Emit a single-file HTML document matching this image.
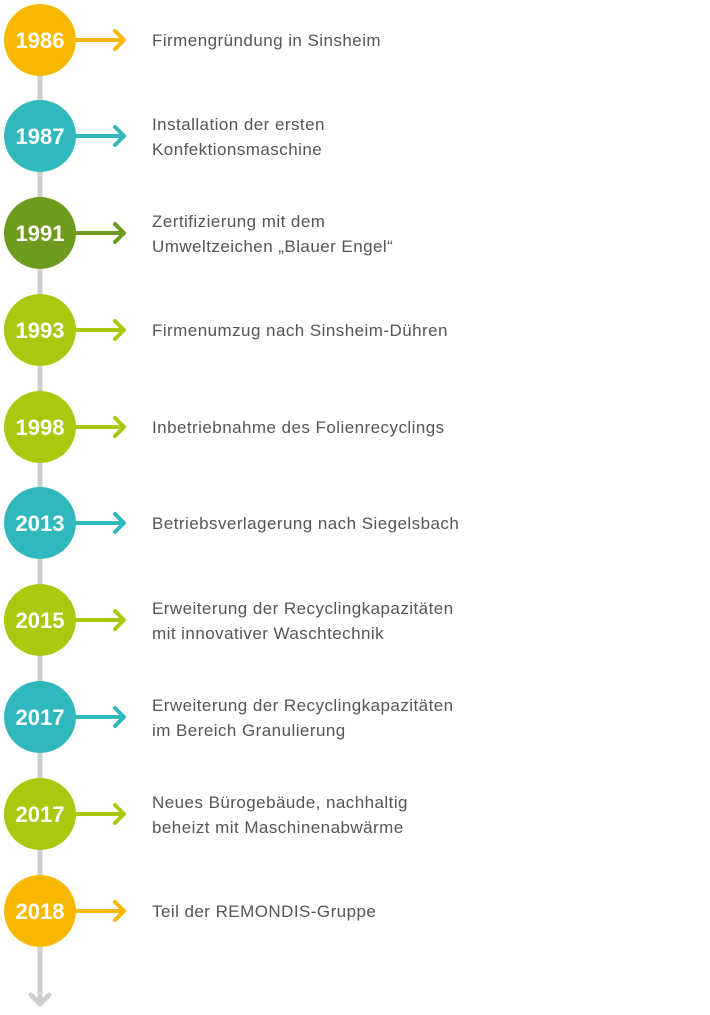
<!DOCTYPE html>
<html><head><meta charset="utf-8"><style>
body{margin:0;background:#fff;width:710px;height:1010px;overflow:hidden}
svg text{font-family:"Liberation Sans",sans-serif}
.y{fill:#fff;font-size:22px;font-weight:bold;text-anchor:middle}
.t{fill:#555;font-size:17px;letter-spacing:0.45px}
.a{fill:none;stroke-width:4;stroke-linecap:round;stroke-linejoin:round}
</style></head><body>
<svg width="710" height="1010" viewBox="0 0 710 1010">
<line x1="40" y1="40" x2="40" y2="1004" stroke="#cfcfcf" stroke-width="5"/>
<polyline points="31,995 40,1004 49,995" fill="none" stroke="#cfcfcf" stroke-width="5" stroke-linecap="round" stroke-linejoin="round"/>

<g stroke="#f8b800"><circle cx="40" cy="40" r="36" fill="#f8b800" stroke="none"/><line x1="74" y1="40" x2="123" y2="40" stroke-width="4"/><polyline class="a" points="115,31 124,40 115,49"/></g>
<text class="y" x="40" y="48">1986</text>
<text class="t" x="152" y="46">Firmengründung in Sinsheim</text>

<g stroke="#30b9bd"><circle cx="40" cy="136" r="36" fill="#30b9bd" stroke="none"/><line x1="74" y1="136" x2="123" y2="136" stroke-width="4"/><polyline class="a" points="115,127 124,136 115,145"/></g>
<text class="y" x="40" y="144">1987</text>
<text class="t" x="152" y="130">Installation der ersten</text>
<text class="t" x="152" y="155">Konfektionsmaschine</text>

<g stroke="#6e9b1d"><circle cx="40" cy="233" r="36" fill="#6e9b1d" stroke="none"/><line x1="74" y1="233" x2="123" y2="233" stroke-width="4"/><polyline class="a" points="115,224 124,233 115,242"/></g>
<text class="y" x="40" y="241">1991</text>
<text class="t" x="152" y="227">Zertifizierung mit dem</text>
<text class="t" x="152" y="252">Umweltzeichen „Blauer Engel“</text>

<g stroke="#a9c90e"><circle cx="40" cy="330" r="36" fill="#a9c90e" stroke="none"/><line x1="74" y1="330" x2="123" y2="330" stroke-width="4"/><polyline class="a" points="115,321 124,330 115,339"/></g>
<text class="y" x="40" y="338">1993</text>
<text class="t" x="152" y="336">Firmenumzug nach Sinsheim-Dühren</text>

<g stroke="#a9c90e"><circle cx="40" cy="427" r="36" fill="#a9c90e" stroke="none"/><line x1="74" y1="427" x2="123" y2="427" stroke-width="4"/><polyline class="a" points="115,418 124,427 115,436"/></g>
<text class="y" x="40" y="435">1998</text>
<text class="t" x="152" y="433">Inbetriebnahme des Folienrecyclings</text>

<g stroke="#30b9bd"><circle cx="40" cy="523" r="36" fill="#30b9bd" stroke="none"/><line x1="74" y1="523" x2="123" y2="523" stroke-width="4"/><polyline class="a" points="115,514 124,523 115,532"/></g>
<text class="y" x="40" y="531">2013</text>
<text class="t" x="152" y="529">Betriebsverlagerung nach Siegelsbach</text>

<g stroke="#a9c90e"><circle cx="40" cy="620" r="36" fill="#a9c90e" stroke="none"/><line x1="74" y1="620" x2="123" y2="620" stroke-width="4"/><polyline class="a" points="115,611 124,620 115,629"/></g>
<text class="y" x="40" y="628">2015</text>
<text class="t" x="152" y="614">Erweiterung der Recyclingkapazitäten</text>
<text class="t" x="152" y="639">mit innovativer Waschtechnik</text>

<g stroke="#30b9bd"><circle cx="40" cy="717" r="36" fill="#30b9bd" stroke="none"/><line x1="74" y1="717" x2="123" y2="717" stroke-width="4"/><polyline class="a" points="115,708 124,717 115,726"/></g>
<text class="y" x="40" y="725">2017</text>
<text class="t" x="152" y="711">Erweiterung der Recyclingkapazitäten</text>
<text class="t" x="152" y="736">im Bereich Granulierung</text>

<g stroke="#a9c90e"><circle cx="40" cy="814" r="36" fill="#a9c90e" stroke="none"/><line x1="74" y1="814" x2="123" y2="814" stroke-width="4"/><polyline class="a" points="115,805 124,814 115,823"/></g>
<text class="y" x="40" y="822">2017</text>
<text class="t" x="152" y="808">Neues Bürogebäude, nachhaltig</text>
<text class="t" x="152" y="833">beheizt mit Maschinenabwärme</text>

<g stroke="#f8b800"><circle cx="40" cy="911" r="36" fill="#f8b800" stroke="none"/><line x1="74" y1="911" x2="123" y2="911" stroke-width="4"/><polyline class="a" points="115,902 124,911 115,920"/></g>
<text class="y" x="40" y="919">2018</text>
<text class="t" x="152" y="917">Teil der REMONDIS-Gruppe</text>
</svg>
</body></html>
